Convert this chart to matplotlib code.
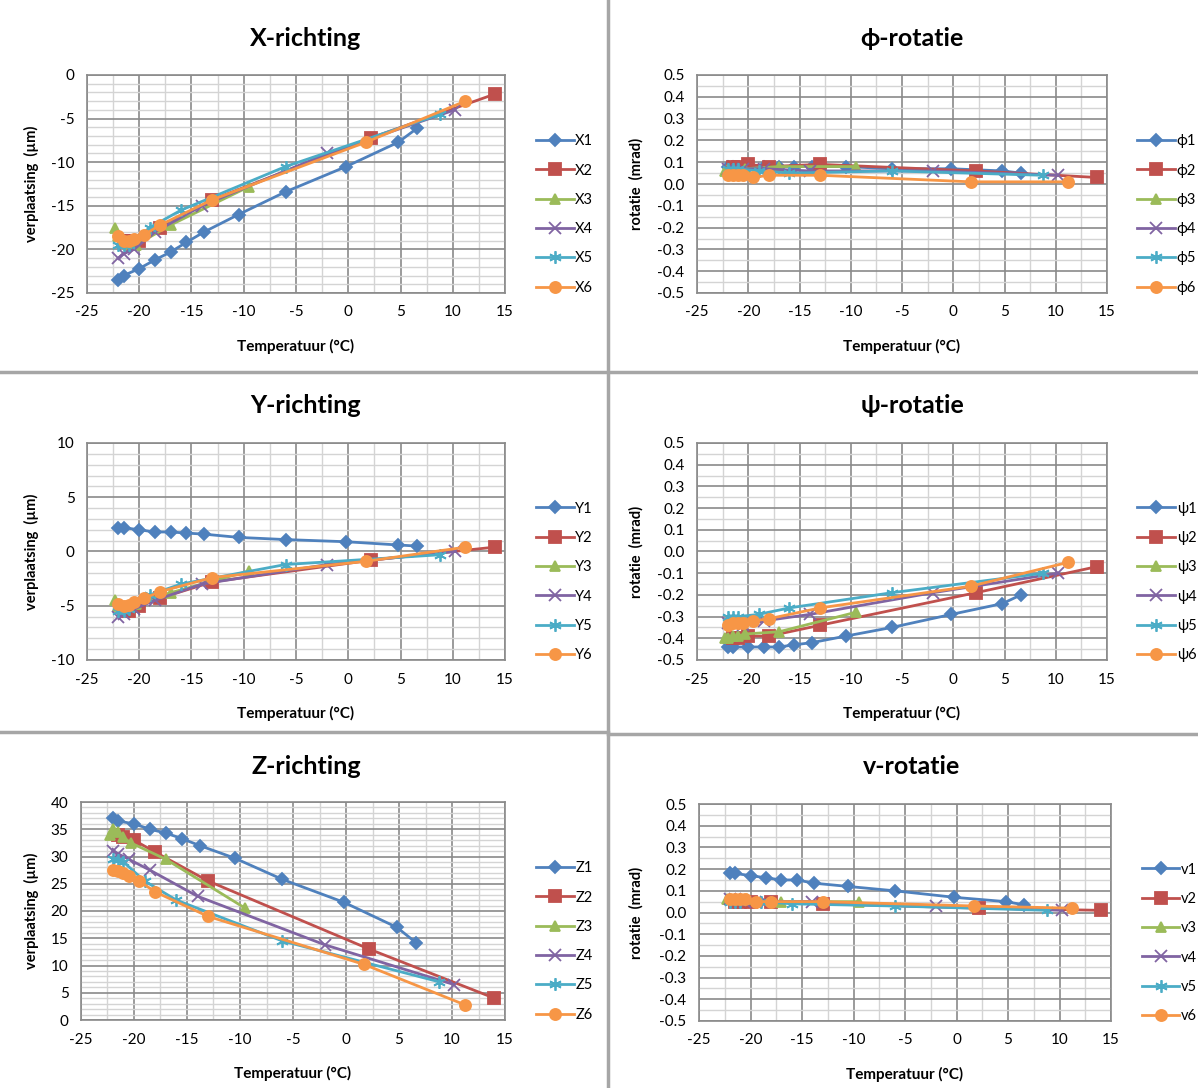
import numpy as np
import matplotlib
matplotlib.use('Agg')
import matplotlib.pyplot as plt
from matplotlib.lines import Line2D
from matplotlib.ticker import MultipleLocator, FormatStrFormatter

plt.rcParams['font.family'] = ['Lato', 'DejaVu Sans']
plt.rcParams['axes.unicode_minus'] = False

# temperatures (deg C) per sensor set
T1 = [-22, -21.5, -20, -18.5, -17, -15.5, -13.8, -10.5, -6, -0.2, 4.8, 6.6]
T2 = [-21.5, -21, -20, -18, -13, 2.2, 14]
T3 = [-22.3, -22, -21.5, -21, -20.3, -17, -9.5]
T4 = [-22, -21.5, -20.5, -18.5, -14, -2, 10.2]
T5 = [-22, -21.5, -21, -19, -16, -6, 8.8]
T6 = [-22, -21.5, -21, -20.5, -19.5, -18, -13, 1.7, 11.2]

# X-richting (um)
X1 = [-23.5, -23, -22.2, -21.2, -20.3, -19.2, -18, -16, -13.4, -10.5, -7.7, -6.1]
X2 = [-19, -19, -19, -17.5, -14.3, -7.2, -2.2]
X3 = [-17.5, -18.5, -19, -19.5, -19.5, -17.2, -12.8]
X4 = [-21, -20.5, -20, -18, -15, -9, -4]
X5 = [-19.5, -19.5, -19.5, -17.5, -15.5, -10.5, -4.5]
X6 = [-18.5, -19, -19, -18.8, -18.3, -17.2, -14.3, -7.7, -3]

# Y-richting (um)
Y1 = [2.2, 2.2, 2.0, 1.8, 1.8, 1.7, 1.6, 1.3, 1.1, 0.9, 0.6, 0.5]
Y2 = [-5.5, -5.5, -5, -4.3, -2.8, -0.8, 0.4]
Y3 = [-4.5, -5, -5.2, -5, -4.8, -3.8, -1.8]
Y4 = [-6, -5.8, -5.3, -4.5, -3, -1.2, 0]
Y5 = [-5.5, -5.5, -5.3, -4, -3, -1.2, -0.3]
Y6 = [-4.8, -5, -4.9, -4.7, -4.3, -3.7, -2.4, -0.9, 0.4]

# Z-richting (um)
Z1 = [37, 36.5, 36, 35, 34.3, 33.3, 32, 29.7, 25.8, 21.6, 17, 14.2]
Z2 = [34, 33.5, 33, 30.8, 25.5, 13, 4]
Z3 = [34, 35, 34.5, 33.5, 32.5, 29.5, 20.5]
Z4 = [31, 30.5, 29.5, 27.5, 22.7, 13.8, 6.5]
Z5 = [29.5, 29.3, 29, 25.5, 22, 14.5, 7]
Z6 = [27.5, 27.3, 27, 26.5, 25.5, 23.5, 19, 10.2, 2.8]

# phi-rotatie (mrad)
P1 = [0.08, 0.08, 0.08, 0.08, 0.08, 0.08, 0.08, 0.08, 0.07, 0.07, 0.06, 0.05]
P2 = [0.08, 0.08, 0.09, 0.08, 0.09, 0.06, 0.03]
P3 = [0.06, 0.07, 0.07, 0.07, 0.07, 0.08, 0.08]
P4 = [0.07, 0.07, 0.07, 0.07, 0.06, 0.06, 0.04]
P5 = [0.07, 0.07, 0.07, 0.06, 0.05, 0.06, 0.04]
P6 = [0.04, 0.04, 0.04, 0.04, 0.03, 0.04, 0.04, 0.01, 0.01]

# psi-rotatie (mrad)
S1 = [-0.44, -0.44, -0.44, -0.44, -0.44, -0.43, -0.42, -0.39, -0.35, -0.29, -0.24, -0.20]
S2 = [-0.40, -0.40, -0.39, -0.39, -0.34, -0.19, -0.07]
S3 = [-0.40, -0.40, -0.39, -0.39, -0.38, -0.37, -0.28]
S4 = [-0.33, -0.33, -0.34, -0.32, -0.29, -0.19, -0.10]
S5 = [-0.30, -0.30, -0.30, -0.29, -0.26, -0.19, -0.10]
S6 = [-0.34, -0.33, -0.33, -0.33, -0.32, -0.31, -0.26, -0.16, -0.05]

# v-rotatie (mrad)
V1 = [0.18, 0.18, 0.17, 0.16, 0.15, 0.15, 0.135, 0.12, 0.10, 0.07, 0.05, 0.035]
V2 = [0.05, 0.05, 0.05, 0.05, 0.04, 0.02, 0.01]
V3 = [0.06, 0.06, 0.06, 0.06, 0.06, 0.05, 0.05]
V4 = [0.06, 0.06, 0.05, 0.05, 0.05, 0.03, 0.01]
V5 = [0.05, 0.05, 0.05, 0.05, 0.04, 0.03, 0.01]
V6 = [0.06, 0.06, 0.06, 0.06, 0.05, 0.05, 0.05, 0.03, 0.02]

temps = [T1, T2, T3, T4, T5, T6]
colors = ['#4F81BD', '#C0504D', '#9BBB59', '#8064A2', '#4BACC6', '#F79646']
markers = ['D', 's', '^', 'x', (6, 2, 0), 'o']
msizes = [6, 8, 7, 8, 9, 8]

W, H = 1198, 1088
fig = plt.figure(figsize=(W / 100, H / 100), dpi=100)


def px_axes(x0, x1, y0, y1):
    return fig.add_axes([x0 / W, 1 - y1 / H, (x1 - x0) / W, (y1 - y0) / H])


def panel(ax, data, prefix, ylim, ymaj, ymin, fmt, ylabel, ylab_x, title, title_x, title_y):
    for i in range(6):
        ax.plot(temps[i], data[i], color=colors[i], marker=markers[i], ms=msizes[i],
                mew=1.3, lw=2, label=prefix + str(i + 1), zorder=3 + i)
    ax.set_xlim(-25, 15)
    ax.set_ylim(*ylim)
    ax.xaxis.set_major_locator(MultipleLocator(5))
    ax.xaxis.set_minor_locator(MultipleLocator(2.5))
    ax.yaxis.set_major_locator(MultipleLocator(ymaj))
    ax.yaxis.set_minor_locator(MultipleLocator(ymin))
    ax.yaxis.set_major_formatter(FormatStrFormatter(fmt))
    ax.grid(which='major', color='#8a8a8a', lw=1.2)
    ax.grid(which='minor', color='#d4d4d4', lw=1.0)
    ax.set_axisbelow(True)
    for s in ax.spines.values():
        s.set_color('#8a8a8a')
        s.set_linewidth(1.2)
    ax.tick_params(which='both', length=0, labelsize=11, pad=9)
    ax.set_xlabel('Temperatuur (°C)', fontsize=11, fontweight='bold')
    ax.xaxis.set_label_coords(0.5, -0.21)
    ax.set_ylabel(ylabel, fontsize=10.5, fontweight='bold')
    ax.yaxis.set_label_coords(ylab_x, 0.5)
    ax.legend(loc='center left', bbox_to_anchor=(1.06, 0.36), frameon=False,
              fontsize=10.5, handlelength=2.6, handletextpad=0.1,
              labelspacing=1.05, borderaxespad=0)
    fig.text(title_x / W, 1 - title_y / H, title, fontsize=18, fontweight='bold',
             ha='center', va='center')


ax = px_axes(87, 505, 75, 293)
panel(ax, [X1, X2, X3, X4, X5, X6], 'X', (-25, 0), 5, 1, '%d',
      'verplaatsing  (µm)', -0.115, 'X-richting', 306, 38)

ax = px_axes(697, 1107, 75, 293)
panel(ax, [P1, P2, P3, P4, P5, P6], 'ϕ', (-0.5, 0.5), 0.1, 0.05, '%.1f',
      'rotatie  (mrad)', -0.13, 'ϕ-rotatie', 912, 38)

ax = px_axes(87, 505, 443, 660)
panel(ax, [Y1, Y2, Y3, Y4, Y5, Y6], 'Y', (-10, 10), 5, 1, '%d',
      'verplaatsing  (µm)', -0.115, 'Y-richting', 306, 405)

ax = px_axes(697, 1107, 443, 660)
panel(ax, [S1, S2, S3, S4, S5, S6], 'ψ', (-0.5, 0.5), 0.1, 0.05, '%.1f',
      'rotatie  (mrad)', -0.13, 'ψ-rotatie', 912, 405)

ax = px_axes(81, 505, 802, 1020)
panel(ax, [Z1, Z2, Z3, Z4, Z5, Z6], 'Z', (0, 40), 5, 1, '%d',
      'verplaatsing  (µm)', -0.10, 'Z-richting', 306, 766)

ax = px_axes(699, 1111, 804, 1021)
panel(ax, [V1, V2, V3, V4, V5, V6], 'v', (-0.5, 0.5), 0.1, 0.05, '%.1f',
      'rotatie  (mrad)', -0.135, 'v-rotatie', 912, 766)

# panel separators
sep = dict(color='#a6a6a6', lw=2.5, transform=fig.transFigure)
fig.add_artist(Line2D([608 / W, 608 / W], [0, 1], **sep))
fig.add_artist(Line2D([0, 1], [1 - 372 / H, 1 - 372 / H], **sep))
fig.add_artist(Line2D([0, 608 / W], [1 - 732 / H, 1 - 732 / H], **sep))
fig.add_artist(Line2D([608 / W, 1], [1 - 734 / H, 1 - 734 / H], **sep))

fig.savefig('out.png', dpi=100)
